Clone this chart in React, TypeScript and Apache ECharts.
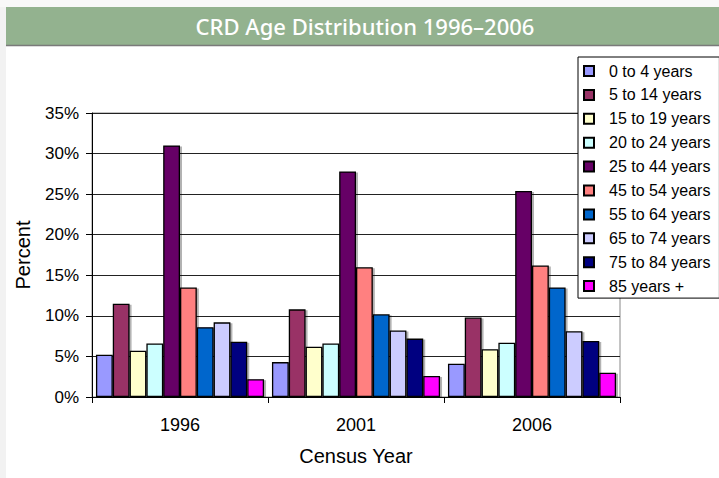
import React, { useEffect, useRef } from "react";
import * as echarts from "echarts";

const categories = ["1996", "2001", "2006"];
const seriesNames = [
  "0 to 4 years",
  "5 to 14 years",
  "15 to 19 years",
  "20 to 24 years",
  "25 to 44 years",
  "45 to 54 years",
  "55 to 64 years",
  "65 to 74 years",
  "75 to 84 years",
  "85 years +",
];
const age0to4 = [5.2, 4.3, 4.1];
const age5to14 = [11.5, 10.8, 9.8];
const age15to19 = [5.7, 6.2, 5.9];
const age20to24 = [6.6, 6.6, 6.7];
const age25to44 = [31.0, 27.8, 25.4];
const age45to54 = [13.5, 16.0, 16.2];
const age55to64 = [8.6, 10.2, 13.5];
const age65to74 = [9.2, 8.2, 8.1];
const age75to84 = [6.8, 7.2, 6.9];
const age85plus = [2.2, 2.6, 3.0];
const seriesValues = [
  age0to4, age5to14, age15to19, age20to24, age25to44,
  age45to54, age55to64, age65to74, age75to84, age85plus,
];
const colors = [
  "#9999FF", "#993366", "#FFFFCC", "#CCFFFF", "#660066",
  "#FF8080", "#0066CC", "#CCCCFF", "#000080", "#FF00FF",
];
const titleText = "CRD Age Distribution 1996–2006";

const FONT = "'Liberation Sans', Arial, sans-serif";

export default function App() {
  const ref = useRef<HTMLDivElement>(null);
  useEffect(() => {
    if (!ref.current) return;
    const chart = echarts.init(ref.current, null, { renderer: "svg" });
    chart.setOption({
      animation: false,
      backgroundColor: "#ffffff",
      textStyle: { fontFamily: FONT, color: "#000" },
      graphic: [
        { type: "rect", shape: { x: 0, y: 0, width: 6, height: 478 }, style: { fill: "#f2f2f2" }, z: -1 },
        { type: "rect", shape: { x: 0, y: 0, width: 719, height: 7 }, style: { fill: "#f8f8f8" }, z: -1 },
        { type: "rect", shape: { x: 6, y: 7, width: 713, height: 38 }, style: { fill: "#93B28F" }, z: 10 },
        { type: "line", shape: { x1: 6, y1: 45.5, x2: 719, y2: 45.5 }, style: { stroke: "#7a7a7a", lineWidth: 1.5 }, z: 10 },
        {
          type: "text",
          x: 365,
          y: 26,
          z: 11,
          style: {
            text: titleText,
            fill: "#ffffff",
            fontSize: 22,
            fontWeight: 500,
            fontFamily: "'Noto Sans', 'Open Sans', sans-serif",
            align: "center",
            verticalAlign: "middle",
          },
        },
      ],
      legend: {
        orient: "vertical",
        left: 578,
        top: 57,
        padding: [6, 9, 4, 5],
        itemWidth: 10,
        itemHeight: 10,
        itemGap: 7.9,
        icon: "rect",
        borderColor: "#000",
        borderWidth: 1,
        backgroundColor: "#fff",
        data: seriesNames,
        textStyle: { fontFamily: FONT, fontSize: 16, lineHeight: 16, color: "#000", padding: [0, 0, 0, 10] },
      },
      grid: { left: 92, right: 99, top: 113, bottom: 81, show: true, borderColor: "#888", borderWidth: 1 },
      xAxis: {
        type: "category",
        data: categories,
        name: "Census Year",
        nameLocation: "middle",
        nameGap: 49,
        nameTextStyle: { fontFamily: FONT, fontSize: 20, color: "#000" },
        axisLine: { lineStyle: { color: "#000", width: 1 } },
        axisTick: { show: true, length: 6, lineStyle: { color: "#000" } },
        axisLabel: { fontFamily: FONT, fontSize: 18, color: "#000", margin: 19 },
      },
      yAxis: {
        type: "value",
        min: 0,
        max: 35,
        interval: 5,
        name: "Percent",
        nameLocation: "middle",
        nameGap: 59,
        nameTextStyle: { fontFamily: FONT, fontSize: 20, color: "#000" },
        axisLine: { show: true, lineStyle: { color: "#000", width: 1 } },
        axisTick: { show: true, length: 6, lineStyle: { color: "#000" } },
        axisLabel: { fontFamily: FONT, fontSize: 17, color: "#000", margin: 13, formatter: "{value}%" },
        splitLine: { show: true, lineStyle: { color: "#222", width: 1 } },
      },
      series: seriesNames.map((name, i) => ({
        name,
        type: "bar",
        data: seriesValues[i],
        barGap: "0%",
        barCategoryGap: "4.5%",
        itemStyle: {
          color: colors[i],
          borderColor: "#000",
          borderWidth: 1.3,
          shadowColor: "rgba(0,0,0,0.3)",
          shadowOffsetX: 2,
          shadowOffsetY: 1,
          shadowBlur: 0,
        },
      })),
    });
    return () => chart.dispose();
  }, []);
  return (
    <div
      ref={ref}
      style={{ position: "absolute", left: 0, top: 0, width: 719, height: 478 }}
    />
  );
}
